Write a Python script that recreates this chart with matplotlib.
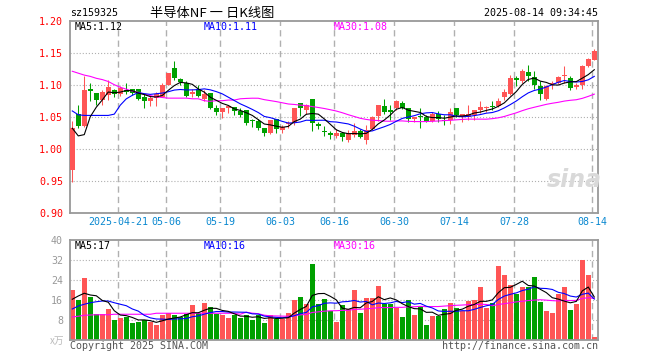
import numpy as np
import pandas as pd
import matplotlib.pyplot as plt

plt.rcParams['lines.scale_dashes'] = False
MONO = 'DejaVu Sans Mono'
CJK = ['Noto Sans CJK SC', 'DejaVu Sans']

# daily K data, 2025-04-09 .. 2025-08-14 (88 trading days)
opens = [0.966, 1.055, 1.035, 1.093, 1.087, 1.076, 1.084, 1.091, 1.086, 1.092,
         1.093, 1.093, 1.080, 1.074, 1.079, 1.081, 1.100, 1.126, 1.109, 1.102,
         1.086, 1.093, 1.077, 1.087, 1.064, 1.058, 1.064, 1.065, 1.059, 1.060,
         1.044, 1.043, 1.033, 1.024, 1.046, 1.029, 1.039, 1.041, 1.071, 1.061,
         1.078, 1.039, 1.027, 1.024, 1.020, 1.025, 1.013, 1.021, 1.027, 1.013,
         1.030, 1.051, 1.067, 1.061, 1.063, 1.072, 1.064, 1.047, 1.050, 1.050,
         1.043, 1.054, 1.045, 1.045, 1.063, 1.049, 1.050, 1.053, 1.060, 1.063,
         1.066, 1.066, 1.080, 1.086, 1.111, 1.106, 1.120, 1.112, 1.098, 1.078,
         1.101, 1.103, 1.113, 1.110, 1.097, 1.100, 1.130, 1.139]
highs = [1.043, 1.068, 1.113, 1.103, 1.087, 1.092, 1.107, 1.094, 1.098, 1.103,
         1.094, 1.093, 1.086, 1.084, 1.089, 1.103, 1.119, 1.137, 1.111, 1.105,
         1.094, 1.099, 1.092, 1.087, 1.068, 1.064, 1.068, 1.065, 1.064, 1.060,
         1.046, 1.046, 1.033, 1.045, 1.047, 1.037, 1.043, 1.063, 1.072, 1.070,
         1.078, 1.042, 1.035, 1.028, 1.030, 1.025, 1.029, 1.040, 1.030, 1.037,
         1.051, 1.069, 1.078, 1.069, 1.076, 1.075, 1.064, 1.050, 1.063, 1.053,
         1.058, 1.059, 1.053, 1.063, 1.064, 1.054, 1.068, 1.061, 1.075, 1.067,
         1.074, 1.079, 1.093, 1.115, 1.114, 1.124, 1.131, 1.122, 1.106, 1.100,
         1.105, 1.114, 1.130, 1.113, 1.102, 1.131, 1.141, 1.155]
lows = [0.948, 1.033, 1.034, 1.075, 1.068, 1.069, 1.076, 1.081, 1.082, 1.086,
        1.084, 1.076, 1.064, 1.067, 1.067, 1.080, 1.099, 1.108, 1.099, 1.080,
        1.080, 1.080, 1.074, 1.062, 1.053, 1.048, 1.056, 1.053, 1.049, 1.037,
        1.034, 1.029, 1.020, 1.023, 1.025, 1.025, 1.033, 1.037, 1.051, 1.054,
        1.028, 1.030, 1.020, 1.015, 1.016, 1.012, 1.011, 1.018, 1.017, 1.008,
        1.029, 1.043, 1.055, 1.045, 1.060, 1.062, 1.041, 1.041, 1.033, 1.042,
        1.042, 1.042, 1.037, 1.039, 1.050, 1.042, 1.045, 1.045, 1.056, 1.058,
        1.060, 1.065, 1.076, 1.084, 1.098, 1.102, 1.105, 1.094, 1.076, 1.076,
        1.093, 1.101, 1.102, 1.092, 1.093, 1.093, 1.128, 1.138]
closes = [1.032, 1.035, 1.091, 1.090, 1.076, 1.089, 1.097, 1.085, 1.095, 1.089,
          1.087, 1.078, 1.074, 1.079, 1.086, 1.099, 1.118, 1.111, 1.104, 1.082,
          1.088, 1.082, 1.086, 1.064, 1.058, 1.064, 1.066, 1.059, 1.052, 1.040,
          1.043, 1.033, 1.025, 1.045, 1.030, 1.034, 1.040, 1.063, 1.064, 1.068,
          1.040, 1.035, 1.026, 1.022, 1.025, 1.019, 1.025, 1.028, 1.019, 1.029,
          1.050, 1.068, 1.058, 1.058, 1.074, 1.064, 1.047, 1.049, 1.049, 1.043,
          1.055, 1.047, 1.044, 1.058, 1.052, 1.054, 1.054, 1.061, 1.065, 1.065,
          1.065, 1.075, 1.088, 1.110, 1.108, 1.121, 1.114, 1.099, 1.086, 1.098,
          1.102, 1.112, 1.115, 1.095, 1.100, 1.129, 1.140, 1.153]
# volume, unit: 万
volumes = [19.9, 15.9, 24.9, 17.3, 10.5, 10.5, 12.3, 7.9, 8.7, 9.3,
           6.9, 7.3, 8.0, 7.2, 5.9, 10.0, 10.9, 9.9, 9.3, 10.5,
           14.1, 10.7, 14.9, 13.3, 10.3, 9.9, 8.9, 10.0, 8.7, 10.0,
           7.9, 9.9, 6.7, 10.0, 8.5, 8.5, 10.9, 15.9, 17.3, 14.5,
           30.5, 14.5, 16.3, 11.6, 7.3, 13.9, 12.3, 20.1, 10.9, 16.9,
           16.9, 21.7, 14.3, 14.3, 12.9, 9.3, 16.1, 10.1, 13.8, 6.0,
           9.6, 9.8, 12.4, 15.0, 12.7, 11.8, 15.6, 16.0, 21.2, 12.7,
           14.7, 29.8, 26.2, 22.0, 18.4, 21.2, 21.2, 25.2, 15.4, 11.8,
           11.0, 18.4, 21.2, 12.0, 14.5, 32.1, 26.1, 1.3]

# moving-average values at the left edge (history before the window)
ma5_head = [1.032, 1.020, 1.022, 1.050]
ma10_head = [1.059, 1.053, 1.052, 1.052, 1.052, 1.052, 1.052, 1.054, 1.068]
ma30_head = [1.121, 1.118, 1.115, 1.113, 1.110, 1.108, 1.105, 1.100, 1.096, 1.093,
             1.090, 1.088, 1.085, 1.083, 1.081, 1.080, 1.079, 1.079, 1.079, 1.079,
             1.078, 1.078, 1.075, 1.074, 1.075, 1.075, 1.076, 1.076, 1.078]
vma5_head = [16.3, 17.6, 18.7, 18.0]
vma10_head = [12.4, 13.6, 14.3, 14.9, 15.3, 15.6, 15.6, 14.9, 14.3]
vma30_head = [9.2, 9.5, 9.9, 10.0, 10.1, 10.1, 10.1, 10.3, 10.3, 10.3,
              10.3, 10.3, 10.3, 10.3, 10.7, 10.7, 10.7, 10.7, 10.7, 10.7,
              10.7, 10.7, 10.7, 10.7, 10.7, 10.7, 10.7, 10.7, 10.3]

tick_labels = ['2025-04-21', '05-06', '05-19', '06-03', '06-16', '06-30', '07-14', '07-28', '08-14']
tick_idx = [8, 16, 25, 35, 44, 54, 64, 74, 87]
price_ticks = [0.90, 0.95, 1.00, 1.05, 1.10, 1.15, 1.20]
vol_ticks = [8, 16, 24, 32, 40]


def moving_avg(vals, n, head):
    out = pd.Series(vals, dtype=float).rolling(n).mean().to_numpy()
    out[:len(head)] = head
    return out


def trunc(v, nd):
    return np.floor(v * 10 ** nd) / 10 ** nd


ma5 = moving_avg(closes, 5, ma5_head)
ma10 = moving_avg(closes, 10, ma10_head)
ma30 = moving_avg(closes, 30, ma30_head)
vma5 = moving_avg(volumes, 5, vma5_head)
vma10 = moving_avg(volumes, 10, vma10_head)
vma30 = moving_avg(volumes, 30, vma30_head)

RED, GREEN = '#ff5555', '#00a000'
GRID = '#b0b0b0'
o = np.array(opens)
c = np.array(closes)
x = np.arange(len(c))
cols = np.where(c >= o, RED, GREEN)

W, H = 660, 360
fig = plt.figure(figsize=(6.6, 3.6), dpi=100)


def fx(px):
    return px / W


def fy(py):
    return 1 - py / H


ax = fig.add_axes([fx(70), fy(212.7), (598 - 70) / W, 192 / H])
axv = fig.add_axes([fx(70), fy(340), (598 - 70) / W, 100 / H])
grid_x = [i - 0.33 for i in tick_idx]

for a in (ax, axv):
    a.set_xlim(-0.38, 87.62)
    for s in a.spines.values():
        s.set_color('#999999')
        s.set_linewidth(1.3)
    a.tick_params(length=0)
    for p in grid_x:
        a.axvline(p, color=GRID, lw=1.0, ls=(0, (4.5, 3)), zorder=0)

# price panel
ax.set_ylim(0.90, 1.20)
for yv in price_ticks[1:-1]:
    ax.axhline(yv, color=GRID, lw=0.8, ls=(0, (0.8, 1.4)), zorder=0)
ax.vlines(x, lows, highs, colors=cols, lw=0.75, zorder=2)
ax.bar(x, np.maximum(np.abs(c - o), 0.0014), bottom=np.minimum(o, c), width=0.83,
       color=cols, lw=0, zorder=3)
ax.plot(x, ma30, color='#ff00ff', lw=0.8, zorder=4)
ax.plot(x, ma10, color='#0000ff', lw=0.8, zorder=5)
ax.plot(x, ma5, color='black', lw=0.8, zorder=6)
ax.set_yticks(price_ticks)
ax.set_yticklabels(['%.2f' % v for v in price_ticks], color='#ff0000',
                   fontfamily=MONO, fontsize=7.2)
ax.set_xticks(grid_x)
ax.set_xticklabels(tick_labels, color='#0a88d0', fontfamily=MONO, fontsize=7.2)
ax.tick_params(axis='y', pad=5)
ax.tick_params(axis='x', pad=3)

# volume panel
axv.set_ylim(0, 40)
for yv in vol_ticks[:-1]:
    axv.axhline(yv, color=GRID, lw=0.8, ls=(0, (0.8, 1.4)), zorder=0)
axv.bar(x, volumes, width=0.83, color=cols, lw=0, zorder=2)
axv.plot(x, vma30, color='#ff00ff', lw=0.8, zorder=3)
axv.plot(x, vma10, color='#0000ff', lw=0.8, zorder=4)
axv.plot(x, vma5, color='black', lw=0.8, zorder=5)
axv.set_xticks([])
axv.set_yticks(vol_ticks)
axv.set_yticklabels([str(v) for v in vol_ticks], color='#999999',
                    fontfamily=MONO, fontsize=7.2)
axv.tick_params(axis='y', pad=5)

# header / legends
txt = dict(fontfamily=MONO, fontsize=7.2, va='center')
fig.text(fx(70), fy(13), 'sz159325', color='black', **txt)
fig.text(fx(150), fy(13), '半导体NF 一 日K线图', family=CJK, fontsize=9.5, va='center')
fig.text(fx(598), fy(13), '2025-08-14 09:34:45', color='black', ha='right', **txt)

fig.text(fx(75), fy(27), 'MA5:%.2f' % trunc(ma5[-1], 2), color='black', **txt)
fig.text(fx(204), fy(27), 'MA10:%.2f' % trunc(ma10[-1], 2), color='#0000ff', **txt)
fig.text(fx(334), fy(27), 'MA30:%.2f' % trunc(ma30[-1], 2), color='#ff00ff', **txt)

fig.text(fx(75), fy(246), 'MA5:%d' % int(vma5[-1]), color='black', **txt)
fig.text(fx(204), fy(246), 'MA10:%d' % int(vma10[-1]), color='#0000ff', **txt)
fig.text(fx(334), fy(246), 'MA30:%d' % int(vma30[-1]), color='#ff00ff', **txt)

fig.text(fx(64), fy(341), 'x万', family=CJK, fontsize=7, color='#bbbbbb', ha='right', va='center')
fig.text(fx(70), fy(346), 'Copyright 2025 SINA.COM', color='#555555', **txt)
fig.text(fx(598), fy(346), 'http://finance.sina.com.cn', color='#555555', ha='right', **txt)

# watermark
fig.text(fx(574), fy(180), 'sina', style='italic', weight='bold', fontsize=17,
         color='#d9d9d9', ha='center', va='center')

fig.savefig('out.png', dpi=100)
